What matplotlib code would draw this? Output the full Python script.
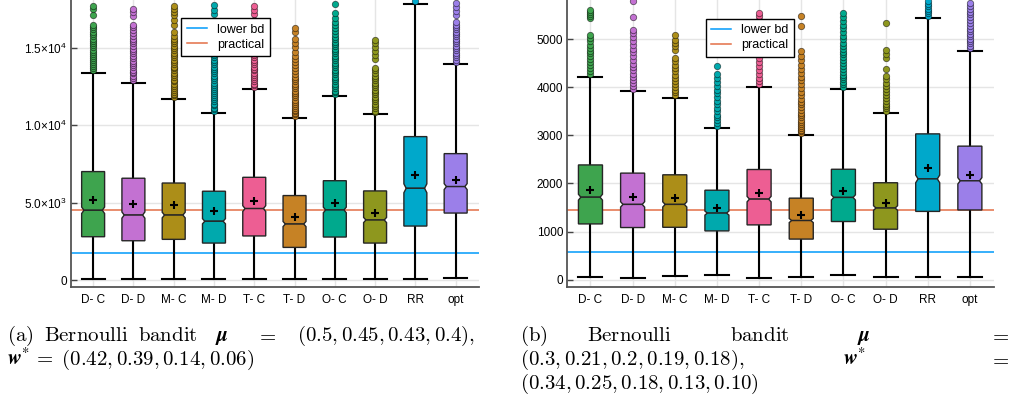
import numpy as np
import matplotlib
matplotlib.use("Agg")
import matplotlib.pyplot as plt
from matplotlib.patches import Polygon

plt.rcParams["font.family"] = "Liberation Sans"
plt.rcParams["mathtext.fontset"] = "custom"
plt.rcParams["mathtext.rm"] = "Liberation Sans"
plt.rcParams["mathtext.it"] = "Liberation Sans:italic"
plt.rcParams["mathtext.bf"] = "Liberation Sans:bold"

# ---------------------------------------------------------
# data
# ---------------------------------------------------------
methods = ["D- C", "D- D", "M- C", "M- D", "T- C", "T- D", "O- C", "O- D", "RR", "opt"]
box_colors = ["#3EA44E", "#C371D2", "#AC8E18", "#00A9AD", "#ED5E93",
              "#C68225", "#00A98D", "#8E971E", "#00A8CB", "#9B7FE9"]
n_runs = 1000  # used for the notch (median CI)

# panel (a)
a_q1 = [2800, 2540, 2630, 2390, 2850, 2110, 2780, 2390, 3490, 4330]
a_med = [4510, 4200, 4200, 3800, 4620, 3620, 4530, 3880, 5930, 6040]
a_q3 = [7010, 6580, 6270, 5740, 6640, 5460, 6420, 5760, 9270, 8170]
a_lo = [50, 40, 50, 40, 50, 40, 50, 40, 50, 110]
a_hi = [13400, 12750, 11730, 10780, 12330, 10480, 11920, 10760, 17850, 13950]
a_mean = [5170, 4920, 4870, 4460, 5110, 4050, 4980, 4330, 6810, 6450]
a_fliers = [
    [13550, 13700, 13850, 13950, 14100, 14200, 14350, 14500, 14600, 14750, 14900, 15050,
     15200, 15300, 15450, 15600, 15750, 15900, 16050, 16200, 16350, 16500, 17150, 17500, 17700],
    [12900, 13050, 13200, 13350, 13450, 13600, 13750, 13900, 14000, 14150, 14350, 14500,
     14650, 14800, 14950, 15100, 15300, 15450, 15600, 15800, 15950, 16150, 16350, 16500,
     17050, 17300, 17500],
    [11850, 11950, 12050, 12150, 12300, 12400, 12550, 12700, 12850, 12950, 13100, 13250,
     13400, 13550, 13700, 13800, 13950, 14100, 14250, 14400, 14550, 14700, 14850, 15000,
     15150, 15300, 15450, 15600, 15800, 16000, 16500, 16800, 17100, 17350, 17550, 17700],
    [10900, 11050, 11150, 11300, 11400, 11550, 11700, 11800, 11950, 12100, 12200, 12350,
     12450, 12600, 12750, 12900, 13050, 13200, 13350, 13500, 13650, 13800, 13950, 14100,
     14250, 14400, 14550, 14700, 15200, 15800, 16400, 17200, 17450, 17750],
    [12450, 12600, 12700, 12850, 13000, 13100, 13250, 13400, 13550, 13650, 13800, 13950,
     14100, 14250, 14400, 14550, 14700, 14850, 15000, 15200, 15400, 15600, 15800, 16000,
     16400, 16800, 17200, 17450, 17700],
    [10600, 10700, 10800, 10900, 11000, 11100, 11250, 11400, 11500, 11650, 11800, 11950,
     12100, 12250, 12400, 12550, 12700, 12850, 13000, 13150, 13300, 13500, 13700, 13900,
     14100, 14300, 14500, 14750, 15050, 15300, 15550, 16000, 16300],
    [12050, 12150, 12250, 12400, 12550, 12700, 12850, 13000, 13150, 13300, 13450, 13600,
     13750, 13900, 14050, 14200, 14350, 14500, 14650, 14800, 14950, 15100, 15250, 15400,
     15550, 15700, 15900, 16100, 16300, 16500, 16700, 16950, 17250, 17850],
    [10850, 10950, 11100, 11250, 11400, 11550, 11700, 11850, 12000, 12150, 12300, 12450,
     12600, 12750, 12900, 13050, 13200, 13350, 13550, 13700, 14300, 14550, 14800, 15050,
     15300, 15500],
    [18050],
    [14100, 14250, 14400, 14550, 14700, 14850, 15000, 15150, 15300, 15450, 15600, 15750,
     15900, 16050, 16200, 16350, 16500, 16700, 17150, 17400, 17650, 17900],
]
a_lower_bd = 1730
a_practical = 4510
a_yticks = [0, 5000, 10000, 15000]
a_yticklabels = ["0", r"$5.0{\times}10^3$", r"$1.0{\times}10^4$", r"$1.5{\times}10^4$"]

# panel (b)
b_q1 = [1160, 1085, 1090, 1015, 1140, 845, 1210, 1050, 1420, 1450]
b_med = [1715, 1565, 1565, 1385, 1675, 1230, 1710, 1490, 2095, 2055]
b_q3 = [2385, 2215, 2180, 1860, 2290, 1695, 2295, 2015, 3030, 2775]
b_lo = [60, 40, 70, 95, 45, 60, 90, 60, 55, 60]
b_hi = [4220, 3910, 3780, 3150, 4010, 3000, 3960, 3460, 5430, 4760]
b_mean = [1855, 1715, 1695, 1495, 1805, 1340, 1840, 1590, 2330, 2180]
b_fliers = [
    [4280, 4340, 4400, 4460, 4520, 4580, 4640, 4700, 4760, 4820, 4880, 4950, 5020, 5080,
     5430, 5470, 5510, 5560, 5600],
    [3970, 4030, 4090, 4150, 4210, 4280, 4350, 4420, 4490, 4560, 4640, 4720, 4800, 4880,
     4960, 5050, 5120, 5190, 5460, 5780],
    [3840, 3890, 3950, 4010, 4070, 4130, 4200, 4260, 4330, 4400, 4470, 4540, 4600, 4780,
     4850, 4920, 4980, 5080],
    [3200, 3250, 3310, 3370, 3430, 3500, 3570, 3640, 3710, 3790, 3870, 3950, 4030, 4110,
     4190, 4280, 4440],
    [4070, 4130, 4200, 4280, 4360, 4440, 4520, 4600, 4680, 4760, 4840, 4920, 5000, 5080,
     5160, 5240, 5320, 5400, 5480, 5550],
    [3040, 3080, 3120, 3160, 3200, 3240, 3280, 3320, 3370, 3420, 3470, 3520, 3580, 3640,
     3700, 3760, 3830, 3900, 3980, 4060, 4140, 4220, 4300, 4380, 4470, 4560, 4650, 4760,
     5260, 5480],
    [4010, 4060, 4110, 4160, 4210, 4260, 4320, 4380, 4440, 4500, 4560, 4620, 4680, 4740,
     4800, 4860, 4920, 4990, 5060, 5140, 5220, 5300, 5380, 5460, 5550],
    [3510, 3560, 3610, 3660, 3720, 3780, 3840, 3900, 3960, 4020, 4090, 4160, 4230, 4380,
     4610, 4690, 4770, 5340],
    [5480, 5530, 5580, 5630, 5680, 5730, 5780],
    [4810, 4860, 4910, 4960, 5010, 5060, 5110, 5160, 5210, 5270, 5330, 5390, 5450, 5510,
     5570, 5630, 5690, 5750],
]
b_lower_bd = 575
b_practical = 1445
b_yticks = [0, 1000, 2000, 3000, 4000, 5000]
b_yticklabels = ["0", "1000", "2000", "3000", "4000", "5000"]


# ---------------------------------------------------------
# drawing
# ---------------------------------------------------------
BOX_W = 0.57
LINE_BLUE = "#009AFA"
LINE_ORANGE = "#E36F47"


def draw_panel(ax, q1, med, q3, lo, hi, mean, fliers, lower_bd, practical,
               yticks, yticklabels, ylim, legend_xy):
    xs = np.arange(1, len(methods) + 1)
    ax.axhline(lower_bd, color=LINE_BLUE, lw=1.1, label="lower bd", zorder=1)
    ax.axhline(practical, color=LINE_ORANGE, lw=1.1, label="practical", zorder=1)

    for i, x in enumerate(xs):
        c = box_colors[i]
        # whiskers + caps
        ax.plot([x, x], [q3[i], hi[i]], color="black", lw=1.5, zorder=2)
        ax.plot([x, x], [q1[i], lo[i]], color="black", lw=1.5, zorder=2)
        ax.plot([x - BOX_W / 2, x + BOX_W / 2], [hi[i], hi[i]], color="black", lw=1.5, zorder=2)
        ax.plot([x - BOX_W / 2, x + BOX_W / 2], [lo[i], lo[i]], color="black", lw=1.5, zorder=2)
        # outliers
        fl = fliers[i]
        ax.plot([x] * len(fl), fl, "o", ms=4.6, mfc=c, mec=(0, 0, 0, 0.55),
                mew=0.6, zorder=3)
        # notched box, drawn as two halves
        notch = 1.57 * (q3[i] - q1[i]) / np.sqrt(n_runs)
        w = BOX_W / 2
        nw = w * 0.8
        upper = [(x - w, q3[i]), (x + w, q3[i]), (x + w, med[i] + notch),
                 (x + nw, med[i]), (x - nw, med[i]), (x - w, med[i] + notch)]
        lower = [(x - w, q1[i]), (x + w, q1[i]), (x + w, med[i] - notch),
                 (x + nw, med[i]), (x - nw, med[i]), (x - w, med[i] - notch)]
        for pts in (upper, lower):
            ax.add_patch(Polygon(pts, closed=True, facecolor=c,
                                 edgecolor=(0.15, 0.15, 0.15), lw=1.0, zorder=4))
        ax.plot(x, mean[i], "+", color="black", ms=6, mew=1.5, zorder=5)

    ax.set_xlim(0.45, 10.58)
    ax.set_ylim(*ylim)
    ax.set_xticks(xs)
    ax.set_xticklabels(methods, fontsize=8.5)
    ax.set_yticks(yticks)
    ax.set_yticklabels(yticklabels, fontsize=8.5)
    ax.tick_params(axis="x", length=0, pad=5)
    ax.tick_params(axis="y", direction="in", length=4, width=1, color="#444444", pad=3)
    ax.grid(True, color="#e5e5e5", lw=1.0, zorder=0)
    ax.set_axisbelow(True)
    for s in ("top", "right"):
        ax.spines[s].set_visible(False)
    for s in ("left", "bottom"):
        ax.spines[s].set_color("#555555")
        ax.spines[s].set_linewidth(1.3)
    ax.legend(loc="upper left", bbox_to_anchor=legend_xy, borderaxespad=0,
              fontsize=9, fancybox=False, edgecolor="black", framealpha=1,
              handlelength=1.6, borderpad=0.45, labelspacing=0.25)


fig = plt.figure(figsize=(10.11, 4.04), dpi=100)
ax_a = fig.add_axes([0.0702, 0.2896, 0.4036, 0.7104])
ax_b = fig.add_axes([0.5611, 0.2896, 0.4224, 0.7104])

draw_panel(ax_a, a_q1, a_med, a_q3, a_lo, a_hi, a_mean, a_fliers, a_lower_bd,
           a_practical, a_yticks, a_yticklabels, (-450, 18100), (0.27, 0.937))
draw_panel(ax_b, b_q1, b_med, b_q3, b_lo, b_hi, b_mean, b_fliers, b_lower_bd,
           b_practical, b_yticks, b_yticklabels, (-150, 5810), (0.324, 0.935))


# ---------------------------------------------------------
# captions (justified like the LaTeX subcaptions)
# ---------------------------------------------------------
def cap(xp, yp, s, font="cm"):
    fig.text(xp / 1011, 1 - yp / 404, s, fontsize=15, va="baseline", ha="left",
             math_fontfamily=font)


MU = r"$\mathbfit{\mu}$"
W = r"$\mathbfit{w}^{*}$"

cap(7, 341, r"$\mathrm{(a)}$")
cap(44, 341, r"$\mathrm{Bernoulli}$")
cap(138, 341, r"$\mathrm{bandit}$")
cap(215, 341, MU, font="stix")
cap(256, 341, r"$=$")
cap(297, 341, r"$(0.5, 0.45, 0.43, 0.4),$")
cap(7, 365, W, font="stix")
cap(33, 365, r"$=\;(0.42, 0.39, 0.14, 0.06)$")

cap(520, 341, r"$\mathrm{(b)}$")
cap(587, 341, r"$\mathrm{Bernoulli}$")
cap(730, 341, r"$\mathrm{bandit}$")
cap(857, 341, MU, font="stix")
cap(989, 341, r"$=$")
cap(520, 365, r"$(0.3, 0.21, 0.2, 0.19, 0.18),$")
cap(843, 365, W, font="stix")
cap(989, 365, r"$=$")
cap(520, 389, r"$(0.34, 0.25, 0.18, 0.13, 0.10)$")

fig.savefig("out.png", dpi=100)
